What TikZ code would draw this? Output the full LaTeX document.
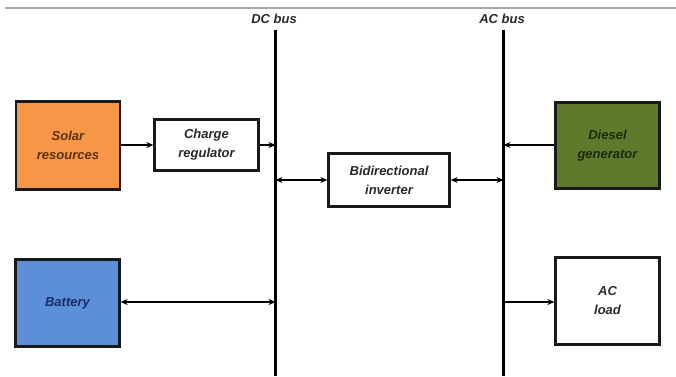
\documentclass[tikz,border=0pt]{standalone}
\usepackage{fontspec}
\setmainfont{Liberation Sans}
\usetikzlibrary{arrows.meta}
\definecolor{solarfill}{HTML}{F79646}
\definecolor{battfill}{HTML}{5B8FD8}
\definecolor{dieselfill}{HTML}{5E7A2C}
\definecolor{solartext}{HTML}{5A3214}
\definecolor{batttext}{HTML}{1A2E6B}
\definecolor{dieseltext}{HTML}{1E2A0C}
\definecolor{plaintext}{HTML}{2A2A2A}
\tikzset{
  blk/.style={draw=black!90, line width=2.3pt, minimum width=#1, align=center,
    font=\fontsize{13}{19}\selectfont\bfseries\itshape, inner sep=0pt},
  blk/.default=104pt,
  bus/.style={line width=3.2pt, black},
  conn/.style={line width=1.2pt, -{Stealth[length=7pt,width=6pt]}},
  bconn/.style={line width=1.2pt, {Stealth[length=7pt,width=6pt]}-{Stealth[length=7pt,width=6pt]}},
  buslabel/.style={font=\fontsize{13}{15}\selectfont\bfseries\itshape, text=plaintext}
}
\begin{document}
\begin{tikzpicture}[x=1pt,y=-1pt]
\useasboundingbox (0,0) rectangle (676,376);
\fill[white] (0,0) rectangle (676,376);
\coordinate (tl) at (5,8);
\coordinate (tr) at (676,8);
\draw[line width=1.4pt, black!35] (tl) -- (tr);
% buses
\coordinate (dctop) at (275.5,30);
\coordinate (dcbot) at (275.5,376);
\coordinate (actop) at (503.5,30);
\coordinate (acbot) at (503.5,376);
\draw[bus] (dctop) -- (dcbot);
\draw[bus] (actop) -- (acbot);
\node[buslabel] (dclabel) at (274,19) {DC bus};
\node[buslabel] (aclabel) at (502,19) {AC bus};
% blocks
\node[blk, fill=solarfill, text=solartext, minimum height=88pt] (solar) at (68,145.5) {Solar\\resources};
\node[blk, text=plaintext, minimum height=51pt] (charge) at (206.5,145) {Charge\\regulator};
\node[blk=121pt, text=plaintext, minimum height=53pt] (inv) at (389,180) {Bidirectional\\inverter};
\node[blk, fill=dieselfill, text=dieseltext, minimum height=86pt] (diesel) at (607.5,145.5) {Diesel\\generator};
\node[blk, fill=battfill, text=batttext, minimum height=87pt] (batt) at (67.5,303) {Battery};
\node[blk, text=plaintext, minimum height=87pt] (load) at (607.5,301) {AC\\load};
% connectors
\draw[conn] (solar.east |- charge.west) -- (charge.west);
\draw[conn] (charge.east) -- (charge.east -| dctop);
\draw[bconn] (inv.west -| dctop) -- (inv.west);
\draw[bconn] (inv.east) -- (inv.east -| actop);
\draw[conn] (diesel.west |- 0,145) -- (actop |- 0,145);
\draw[bconn] (batt.east |- 0,302) -- (dctop |- 0,302);
\draw[conn] (actop |- 0,302) -- (load.west |- 0,302);
\end{tikzpicture}
\end{document}
